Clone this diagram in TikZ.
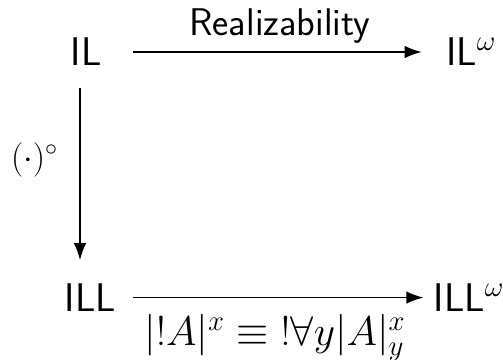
\documentclass[tikz,border=0pt]{standalone}
\usepackage{amsmath}
\usepackage{amssymb}
\usetikzlibrary{positioning, arrows.meta}
\tikzset{
  obj/.style ={font=\fontsize{20}{24}\selectfont\sffamily, inner sep=0pt},
  map/.style ={-{Latex[length=3mm, width=2.2mm]}, line width=0.9pt},
  lbl/.style ={font=\fontsize{19.5}{23}\selectfont, inner sep=0pt},
}

\begin{document}
\begin{tikzpicture}
  \useasboundingbox (0,0) rectangle (251.5pt,-179.5pt);
  \node[obj] at (43pt,-26pt) (IL) {IL};
  \node[obj, base right=172pt of IL] (ILw) {IL$^\omega$};
  \node[obj, below=108.5pt of IL, xshift=2.25pt] (ILL) {ILL};
  \node[obj, base right=158.5pt of ILL] (ILLw) {ILL$^\omega$};
  \draw[map, shorten <=15.5pt, shorten >=12pt] (IL.east) -- node[lbl, font=\fontsize{19.3}{23}\selectfont\sffamily, anchor=base, yshift=8.5pt, xshift=3pt]{Realizability} (IL.east -| ILw.west);
  \draw[map, shorten <=11pt, shorten >=11.5pt] ([xshift=-3pt]IL.south) -- node[lbl, font=\fontsize{17}{20}\selectfont, left=10.5pt, pos=0.43]{$(\cdot)^\circ$} ([xshift=-3pt]IL.south |- ILL.north);
  \draw[map, shorten <=8.5pt, shorten >=5pt] (ILL.east) -- node[lbl, below=8pt]{$|{!A}|^x \equiv {!\forall y}|A|^x_y$} (ILL.east -| ILLw.west);
\end{tikzpicture}
\end{document}
